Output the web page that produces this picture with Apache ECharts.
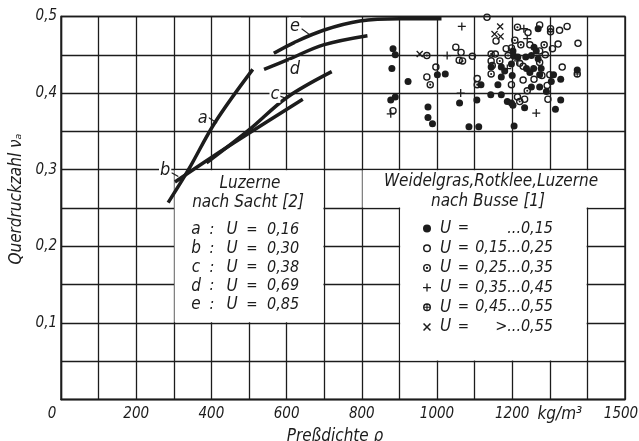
<!DOCTYPE html>
<html>
<head>
<meta charset="utf-8">
<script src="https://cdn.jsdelivr.net/npm/echarts@6/dist/echarts.min.js"></script>
<style>
html, body { margin: 0; padding: 0; background: #fff; }
#chart { width: 639px; height: 441px; }
</style>
</head>
<body>
<div id="chart"></div>
<script>
// Luzerne nach Sacht [2], Kurven a..e
const curveNames = ['a', 'b', 'c', 'd', 'e'];
const curveU = ['0,16', '0,30', '0,38', '0,69', '0,85'];
const curveA = [[285, 0.257], [339, 0.300], [410, 0.362], [510, 0.431]];
const curveB = [[303, 0.284], [400, 0.316], [485, 0.343], [643, 0.392]];
const curveC = [[387, 0.309], [500, 0.352], [600, 0.394], [720, 0.428]];
const curveD = [[540, 0.431], [605, 0.444], [698, 0.463], [815, 0.475]];
const curveE = [[566, 0.452], [620, 0.466], [698, 0.482], [795, 0.494], [900, 0.497], [1012, 0.497]];

// Weidelgras, Rotklee, Luzerne nach Busse [1]
const legendLabels = ['...0,15', '0,15...0,25', '0,25...0,35', '0,35...0,45', '0,45...0,55', '>...0,55'];
const ptsU1 = [[883,0.458],[889,0.450],[880,0.432],[1001,0.424],[1022,0.425],[923,0.415],[889,0.395],[877,0.391],
  [976,0.382],[976,0.368],[988,0.360],[1060,0.387],[1085,0.356],[1111,0.356],[1106,0.391],[1143,0.398],[1117,0.411],
  [1269,0.484],[1258,0.460],[1202,0.455],[1205,0.448],[1215,0.447],[1236,0.447],[1251,0.449],[1264,0.455],[1269,0.445],
  [1198,0.438],[1144,0.434],[1238,0.432],[1247,0.427],[1257,0.432],[1171,0.434],[1180,0.429],[1171,0.421],[1200,0.423],
  [1273,0.424],[1162,0.411],[1251,0.408],[1171,0.398],[1187,0.389],[1198,0.387],[1202,0.384],[1233,0.381],[1205,0.357],
  [1277,0.432],[1310,0.424],[1329,0.418],[1304,0.415],[1273,0.408],[1291,0.402],[1329,0.391],[1315,0.379],[1373,0.430]];
const ptsU2 = [[1050,0.460],[997,0.434],[973,0.421],[883,0.377],[1107,0.419],[1094,0.448],[1064,0.453],[1059,0.443],
  [1133,0.499],[1157,0.468],[1242,0.479],[1247,0.463],[1184,0.458],[1198,0.459],[1155,0.451],[1144,0.442],[1147,0.436],
  [1229,0.435],[1220,0.439],[1229,0.417],[1258,0.418],[1198,0.411],[1214,0.395],[1233,0.392],[1273,0.489],[1326,0.482],
  [1346,0.487],[1307,0.458],[1322,0.464],[1375,0.465],[1273,0.455],[1288,0.450],[1333,0.434],[1279,0.423],[1300,0.424],
  [1293,0.410],[1295,0.392]];
const ptsU3 = [[973,0.449],[982,0.411],[1068,0.442],[1107,0.411],[1214,0.486],[1207,0.469],[1223,0.463],[1144,0.451],
  [1189,0.449],[1167,0.442],[1144,0.425],[1240,0.403],[1220,0.389],[1302,0.484],[1285,0.463],[1273,0.440]];
const ptsU4 = [[1027,0.449],[877,0.373],[1066,0.487],[1231,0.484],[1240,0.471],[1215,0.442],[1187,0.432],[1063,0.400],[1264,0.374]];
const ptsU5 = [[1302,0.480],[1373,0.425]];
const ptsU6 = [[954,0.451],[1168,0.487],[1153,0.477],[1169,0.474]];

// Beschriftung der Kurven
const curveLabelPos = [[377, 0.367], [277, 0.2996], [569, 0.399], [622, 0.431], [622, 0.487]];
const curveTicks = [
  [[392, 0.368], [415, 0.361]],
  [[294, 0.296], [312, 0.291]],
  [[582, 0.396], [600, 0.393]],
  [[600, 0.444], [616, 0.438]],
  [[640, 0.484], [662, 0.476]]
];

const FONT = "'DejaVu Sans Condensed', 'DejaVu Sans', sans-serif";
const INK = '#1c1c1c';

const RING = 'M10,0A10,10,0,1,1,-10,0A10,10,0,1,1,10,0ZM6.4,0A6.4,6.4,0,1,0,-6.4,0A6.4,6.4,0,1,0,6.4,0Z';
const symbols = [
  'circle',
  'path://' + RING,
  'path://' + RING + 'M2.8,0A2.8,2.8,0,1,1,-2.8,0A2.8,2.8,0,1,1,2.8,0Z',
  'path://M-10,-1.6H10V1.6H-10ZM-1.6,-10H1.6V10H-1.6Z',
  'path://' + RING + 'M-6.4,-1.4H6.4V1.4H-6.4ZM-1.4,-6.4H1.4V6.4H-1.4Z',
  'path://M-8.2,-6L-6,-8.2L8.2,6L6,8.2ZM-8.2,6L6,-8.2L8.2,-6L-6,8.2Z'
];
const symbolSizes = [7, 7.5, 7.5, 8, 7.5, 7];
const pointSets = [ptsU1, ptsU2, ptsU3, ptsU4, ptsU5, ptsU6];

const chart = echarts.init(document.getElementById('chart'));

const series = [];

// weiße Felder für die Legendenkästen
series.push({
  type: 'scatter',
  data: [],
  z: 1,
  silent: true,
  markArea: {
    silent: true,
    itemStyle: { color: '#fff', borderWidth: 0 },
    label: { show: false },
    data: [
      [{ coord: [302, 0.1008] }, { coord: [698, 0.2992] }],
      [{ coord: [802, 0.2508] }, { coord: [1496, 0.2992] }],
      [{ coord: [902, 0.0508] }, { coord: [1398, 0.2515] }]
    ]
  }
});

[curveA, curveB, curveC, curveD, curveE].forEach((c, i) => {
  series.push({
    name: 'curve ' + curveNames[i],
    type: 'line',
    data: c,
    smooth: 0.35,
    showSymbol: false,
    z: 3,
    silent: true,
    lineStyle: { color: INK, width: 3.5 }
  });
});

curveTicks.forEach(t => {
  series.push({
    type: 'line',
    data: t,
    showSymbol: false,
    z: 3,
    silent: true,
    lineStyle: { color: INK, width: 1.2 }
  });
});

pointSets.forEach((pts, i) => {
  series.push({
    name: legendLabels[i],
    type: 'scatter',
    data: pts,
    z: 4,
    symbol: symbols[i],
    symbolSize: symbolSizes[i],
    itemStyle: { color: INK, opacity: 1 }
  });
});

// Texte in den Kästen
const graphics = [];
function txt(text, x, y, size, align, bg) {
  graphics.push({
    type: 'text', x: x, y: y, z: 10,
    style: {
      text: text, fontFamily: FONT, fontStyle: 'italic', fontSize: size,
      fill: INK, align: align || 'center', verticalAlign: 'middle',
      backgroundColor: bg || null, padding: bg ? [0, 1] : 0
    }
  });
}
txt('Luzerne', 250, 184, 17);
txt('nach Sacht [2]', 248, 203, 17);
curveNames.forEach((n, i) => {
  const y = 230 + i * 18.7;
  txt(n, 196, y, 17);
  txt(':', 212, y, 16);
  txt('U', 232, y, 17);
  txt('=', 252, y, 15);
  txt(curveU[i], 267, y, 16, 'left');
});
txt('Weidelgras,Rotklee,Luzerne', 491, 182, 17);
txt('nach Busse [1]', 488, 202, 17);

chart.setOption({
  backgroundColor: '#fff',
  animation: false,
  grid: {
    left: 61, right: 14, top: 16.5, bottom: 41.5,
    show: true, borderColor: INK, borderWidth: 1.4,
    outerBoundsMode: 'none'
  },
  legend: {
    orient: 'vertical',
    left: 423,
    top: 220,
    padding: 0,
    itemWidth: 8,
    itemHeight: 8,
    itemGap: 2.7,
    selectedMode: false,
    data: legendLabels,
    formatter: name => '{u|U}{e|=}{v|' + name + '}',
    textStyle: {
      color: INK,
      rich: {
        u: { fontFamily: FONT, fontStyle: 'italic', fontSize: 17, width: 19, align: 'right', lineHeight: 16 },
        e: { fontFamily: FONT, fontSize: 15, width: 17, align: 'center', lineHeight: 16 },
        v: { fontFamily: FONT, fontStyle: 'italic', fontSize: 16, width: 81, align: 'right', lineHeight: 16 }
      }
    }
  },
  xAxis: {
    type: 'value',
    min: 0, max: 1500, interval: 100,
    name: 'Preßdichte ϱ',
    nameLocation: 'middle',
    nameGap: 23,
    nameTextStyle: { fontFamily: FONT, fontStyle: 'italic', fontSize: 17, color: INK, padding: [0, 16, 0, 0] },
    axisLine: { show: true, lineStyle: { color: INK, width: 1.4 } },
    axisTick: { show: false },
    splitLine: { show: true, lineStyle: { color: INK, width: 1.3 } },
    axisLabel: {
      margin: 7,
      fontFamily: FONT, fontStyle: 'italic', fontSize: 15, color: INK,
      showMinLabel: true, showMaxLabel: true,
      formatter: v => {
        if (v === 0) return '{z|0}';
        if (v === 1300) return '{k|kg/m³}';
        if (v === 1500) return '{m|1500}';
        return (v % 200 === 0 && v <= 1200) ? String(v) : '';
      },
      rich: {
        z: { fontFamily: FONT, fontStyle: 'italic', fontSize: 15, color: INK, padding: [0, 18, 0, 0] },
        k: { fontFamily: FONT, fontStyle: 'italic', fontSize: 17, color: INK, padding: [0, 0, 0, 20] },
        m: { fontFamily: FONT, fontStyle: 'italic', fontSize: 15, color: INK, padding: [0, 8, 0, 0] }
      }
    }
  },
  yAxis: {
    type: 'value',
    min: 0, max: 0.5, interval: 0.05,
    name: 'Querdruckzahl νₐ',
    nameLocation: 'middle',
    nameGap: 25,
    nameRotate: 90,
    nameTextStyle: { fontFamily: FONT, fontStyle: 'italic', fontSize: 17, color: INK, padding: [0, 0, 0, 18] },
    axisLine: { show: true, lineStyle: { color: INK, width: 1.4 } },
    axisTick: { show: false },
    splitLine: { show: true, lineStyle: { color: INK, width: 1.3 } },
    axisLabel: {
      margin: 4,
      fontFamily: FONT, fontStyle: 'italic', fontSize: 15, color: INK,
      formatter: v => {
        const t = Math.round(v * 100);
        return (t > 0 && t % 10 === 0) ? (t / 100).toFixed(1).replace('.', ',') : '';
      }
    }
  },
  series: series
});

// Kurvenbuchstaben über die Achsen platzieren
curveLabelPos.forEach((p, i) => {
  const px = chart.convertToPixel({ gridIndex: 0 }, p);
  txt(curveNames[i], px[0], px[1], 18, 'center', '#fff');
});
chart.setOption({ graphic: graphics });
</script>
</body>
</html>
